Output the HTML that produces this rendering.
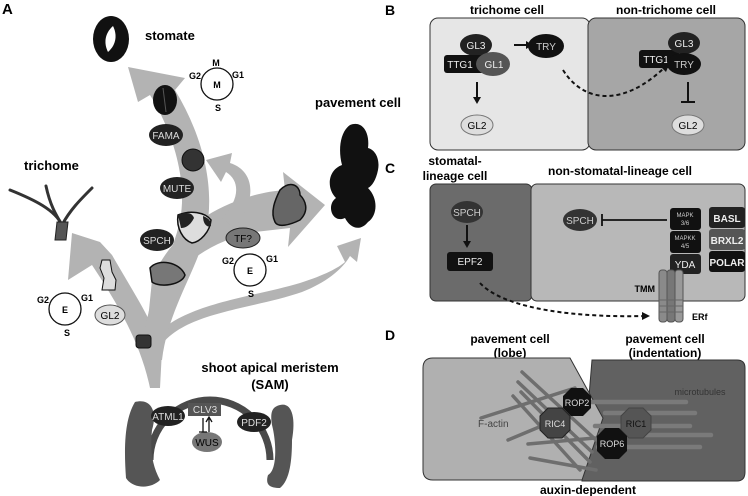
<!DOCTYPE html>
<html><head><meta charset="utf-8"><style>
body{margin:0;background:#fff}
svg{display:block;font-family:"Liberation Sans",sans-serif}
.b{font-weight:bold}
</style></head><body>
<svg width="748" height="496" viewBox="0 0 748 496">
<!-- PANEL A -->
<text x="2" y="14" class="b" font-size="15">A</text>
<g fill="#b3b3b3">
<path d="M150,345 C170,305 250,298 300,283 C325,275 338,268 345,262 L337,246 L361,238 L357,262 L350,256 C342,270 325,283 302,292 C250,310 180,312 158,350 Z"/>
<path d="M145,350 C150,290 190,245 255,232 L290,228 L288,247 L325,205 L283,172 L285,190 C240,193 175,220 152,280 Z"/>
<path d="M150,388 C140,340 115,300 92,265 L68,280 L72,233 L100,242 L112,255 C132,290 152,320 162,350 L160,388 Z"/>
<path d="M145,360 C140,300 172,262 180,220 C188,180 172,130 150,95 L138,102 L128,67 L185,78 L175,90 C205,140 215,190 206,232 C196,272 168,310 162,360 Z"/>
<path d="M222,218 C238,202 242,182 226,172 L221,182 L206,160 L232,153 L230,163 C258,172 255,205 234,228 Z"/>
</g>
<ellipse cx="111" cy="39" rx="18" ry="23" fill="#111"/>
<path d="M113,26 C104,34 104,44 108,52 C117,44 117,34 113,26Z" fill="#fff"/>
<text x="145" y="40" class="b" font-size="13">stomate</text>
<text x="24" y="170" class="b" font-size="13">trichome</text>
<text x="315" y="107" class="b" font-size="13">pavement cell</text>
<text x="270" y="372" class="b" font-size="13" text-anchor="middle">shoot apical meristem</text>
<text x="270" y="389" class="b" font-size="13" text-anchor="middle">(SAM)</text>
<g stroke="#333" stroke-width="3" fill="none" stroke-linecap="round">
<path d="M10,190 C35,200 55,210 62,225"/><path d="M92,188 C80,200 70,210 62,225"/><path d="M46,186 C50,205 56,215 62,225"/>
</g>
<path d="M57,222 L68,222 L66,240 L55,240Z" fill="#555" stroke="#222"/>
<path d="M350,125 C362,120 370,132 368,148 C376,150 380,160 378,170 C376,180 372,186 368,188 C378,198 378,215 368,222 C360,232 350,228 345,218 C332,224 326,205 336,198 C326,188 328,170 342,165 C338,150 340,132 350,125Z" fill="#111"/>
<ellipse cx="165" cy="100" rx="12" ry="15" fill="#111"/>
<line x1="163" y1="88" x2="166" y2="112" stroke="#555"/>
<ellipse cx="166" cy="135" rx="17" ry="11" fill="#222"/><text x="166" y="139" fill="#ddd" font-size="10" text-anchor="middle">FAMA</text>
<circle cx="193" cy="160" r="11" fill="#333" stroke="#111"/>
<ellipse cx="177" cy="188" rx="17" ry="11" fill="#222"/><text x="177" y="192" fill="#ddd" font-size="10" text-anchor="middle">MUTE</text>
<path d="M178,215 C190,210 205,212 211,220 C210,232 200,242 192,243 C183,240 176,228 178,215Z" fill="#ddd" stroke="#111" stroke-width="1.5"/>
<path d="M178,215 C185,212 192,212 194,218 C190,226 185,228 181,228Z" fill="#222"/>
<path d="M203,216 C208,218 211,220 211,226 C207,228 203,224 203,216Z" fill="#222"/>
<ellipse cx="157" cy="240" rx="17" ry="11" fill="#222"/><text x="157" y="244" fill="#ddd" font-size="10" text-anchor="middle">SPCH</text>
<ellipse cx="243" cy="238" rx="17" ry="10" fill="#777" stroke="#222"/><text x="243" y="242" font-size="10" text-anchor="middle">TF?</text>
<path d="M150,268 C158,258 180,262 185,275 C182,285 160,288 152,282 Z" fill="#777" stroke="#111" stroke-width="1.5"/>
<path d="M280,190 C290,180 300,185 300,195 C305,200 310,210 300,220 C290,225 278,228 275,222 C270,212 275,200 280,190Z" fill="#666" stroke="#111" stroke-width="1.5"/>
<path d="M102,260 L110,260 L112,272 L116,280 L115,290 L102,290 L104,278 L100,268Z" fill="#ddd" stroke="#111"/>
<ellipse cx="110" cy="315" rx="15" ry="10" fill="#ddd" stroke="#555"/><text x="110" y="319" font-size="10" text-anchor="middle">GL2</text>
<rect x="136" y="335" width="15" height="13" rx="3" fill="#333" stroke="#111"/>
<g fill="none" stroke="#111" stroke-width="1.3"><circle cx="217" cy="84" r="16"/><circle cx="250" cy="270" r="16"/><circle cx="65" cy="309" r="16"/></g>
<g class="b" font-size="9" text-anchor="middle">
<text x="216" y="66">M</text><text x="195" y="79">G2</text><text x="238" y="78">G1</text><text x="217" y="88">M</text><text x="218" y="111">S</text>
<text x="228" y="264">G2</text><text x="272" y="262">G1</text><text x="250" y="274">E</text><text x="251" y="297">S</text>
<text x="43" y="303">G2</text><text x="87" y="301">G1</text><text x="65" y="313">E</text><text x="67" y="336">S</text>
</g>
<path d="M150,460 A58,58 0 0 1 270,460" fill="none" stroke="#4a4a4a" stroke-width="7"/>
<path d="M135,402 C150,398 158,410 152,430 C150,450 152,465 160,480 C150,490 132,488 126,478 C124,450 124,420 135,402Z" fill="#555"/>
<path d="M280,405 C292,402 296,418 292,440 C292,460 290,480 280,488 C270,488 265,485 268,475 C278,470 276,440 272,425 C270,412 272,407 280,405Z" fill="#555"/>
<ellipse cx="207" cy="442" rx="15" ry="10" fill="#777"/><text x="207" y="446" font-size="10" text-anchor="middle">WUS</text>
<rect x="188" y="403" width="33" height="13" fill="#555"/><text x="205" y="413" fill="#ddd" font-size="10" text-anchor="middle">CLV3</text>
<path d="M203,418 V432 M199,432 H207 M209,432 V418 M206,422 L209,417 L212,422" stroke="#111" stroke-width="1.3" fill="none"/>
<ellipse cx="168" cy="416" rx="17" ry="10" fill="#222"/><text x="168" y="420" fill="#ddd" font-size="10" text-anchor="middle">ATML1</text>
<ellipse cx="254" cy="422" rx="17" ry="10" fill="#222"/><text x="254" y="426" fill="#ddd" font-size="10" text-anchor="middle">PDF2</text>

<!-- PANEL B -->
<text x="385" y="15" class="b" font-size="14">B</text>
<text x="507" y="14" class="b" font-size="12" text-anchor="middle">trichome cell</text>
<text x="666" y="14" class="b" font-size="12" text-anchor="middle">non-trichome cell</text>
<rect x="430" y="18" width="160" height="132" rx="8" fill="#e6e6e6" stroke="#333"/>
<rect x="588" y="18" width="157" height="132" rx="8" fill="#a6a6a6" stroke="#333"/>
<ellipse cx="476" cy="45" rx="16" ry="11" fill="#222"/><text x="476" y="49" fill="#eee" font-size="10" text-anchor="middle">GL3</text>
<rect x="444" y="55" width="42" height="18" rx="3" fill="#111"/><text x="460" y="68" fill="#eee" font-size="10" text-anchor="middle">TTG1</text>
<ellipse cx="493" cy="64" rx="17" ry="12" fill="#555"/><text x="494" y="68" fill="#eee" font-size="10" text-anchor="middle">GL1</text>
<path d="M514,45 H527" stroke="#111" stroke-width="2"/><path d="M526,41 L533,45 L526,49Z" fill="#111"/>
<ellipse cx="546" cy="46" rx="18" ry="12" fill="#111"/><text x="546" y="50" fill="#ccc" font-size="10" text-anchor="middle">TRY</text>
<path d="M477,82 V98" stroke="#111" stroke-width="2"/><path d="M473,97 L477,104 L481,97Z" fill="#111"/>
<ellipse cx="477" cy="125" rx="16" ry="10" fill="#ddd" stroke="#777"/><text x="477" y="129" font-size="10" text-anchor="middle">GL2</text>
<path d="M563,70 C585,105 625,105 664,68" fill="none" stroke="#111" stroke-width="2" stroke-dasharray="4,3"/><path d="M660,66 L670,62 L666,72Z" fill="#111"/>
<rect x="639" y="50" width="40" height="18" rx="3" fill="#111"/><text x="656" y="63" fill="#eee" font-size="10" text-anchor="middle">TTG1</text>
<ellipse cx="684" cy="43" rx="16" ry="11" fill="#222"/><text x="684" y="47" fill="#eee" font-size="10" text-anchor="middle">GL3</text>
<ellipse cx="684" cy="64" rx="17" ry="11" fill="#111"/><text x="684" y="68" fill="#ccc" font-size="10" text-anchor="middle">TRY</text>
<path d="M688,82 V102 M681,102 H695" stroke="#111" stroke-width="2"/>
<ellipse cx="688" cy="125" rx="16" ry="10" fill="#ddd" stroke="#777"/><text x="688" y="129" font-size="10" text-anchor="middle">GL2</text>

<!-- PANEL C -->
<text x="385" y="173" class="b" font-size="14">C</text>
<text x="455" y="165" class="b" font-size="12" text-anchor="middle">stomatal-</text>
<text x="455" y="180" class="b" font-size="12" text-anchor="middle">lineage cell</text>
<text x="620" y="175" class="b" font-size="12" text-anchor="middle">non-stomatal-lineage cell</text>
<rect x="430" y="184" width="102" height="117" rx="6" fill="#6b6b6b" stroke="#333"/>
<rect x="531" y="184" width="214" height="117" rx="6" fill="#b8b8b8" stroke="#333"/>
<ellipse cx="467" cy="212" rx="16" ry="11" fill="#333"/><text x="467" y="216" fill="#ccc" font-size="10" text-anchor="middle">SPCH</text>
<path d="M467,225 V242" stroke="#111" stroke-width="2"/><path d="M463,241 L467,248 L471,241Z" fill="#111"/>
<rect x="447" y="252" width="46" height="19" rx="3" fill="#111"/><text x="470" y="265" fill="#eee" font-size="10" text-anchor="middle">EPF2</text>
<ellipse cx="580" cy="220" rx="17" ry="11" fill="#333"/><text x="580" y="224" fill="#ccc" font-size="10" text-anchor="middle">SPCH</text>
<path d="M602,220 H667 M602,214 V226" stroke="#111" stroke-width="1.8"/>
<rect x="670" y="208" width="31" height="22" rx="3" fill="#111"/><text x="685" y="217" fill="#ccc" font-size="6" text-anchor="middle">MAPK</text><text x="685" y="225" fill="#ccc" font-size="6" text-anchor="middle">3/6</text>
<rect x="670" y="231" width="31" height="22" rx="3" fill="#111"/><text x="685" y="240" fill="#ccc" font-size="6" text-anchor="middle">MAPKK</text><text x="685" y="248" fill="#ccc" font-size="6" text-anchor="middle">4/5</text>
<rect x="670" y="254" width="31" height="20" rx="3" fill="#222"/><text x="685" y="268" fill="#eee" font-size="10" text-anchor="middle">YDA</text>
<rect x="709" y="207" width="36" height="21" rx="3" fill="#222"/><text x="727" y="222" fill="#eee" font-size="10" class="b" text-anchor="middle">BASL</text>
<rect x="709" y="229" width="36" height="21" rx="3" fill="#555"/><text x="727" y="244" fill="#eee" font-size="10" class="b" text-anchor="middle">BRXL2</text>
<rect x="709" y="251" width="36" height="21" rx="3" fill="#111"/><text x="727" y="266" fill="#eee" font-size="10" class="b" text-anchor="middle">POLAR</text>
<rect x="659" y="270" width="8" height="52" rx="3" fill="#8a8a8a" stroke="#555"/>
<rect x="667" y="270" width="8" height="52" rx="3" fill="#777" stroke="#555"/>
<rect x="675" y="270" width="8" height="52" rx="3" fill="#999" stroke="#555"/>
<g stroke="#666"><line x1="659" y1="300" x2="683" y2="300"/><line x1="659" y1="306" x2="683" y2="306"/><line x1="659" y1="312" x2="683" y2="312"/></g>
<text x="655" y="292" font-size="9" class="b" text-anchor="end">TMM</text>
<text x="692" y="320" font-size="9" class="b">ERf</text>
<path d="M480,283 C500,305 560,318 645,316" fill="none" stroke="#111" stroke-width="2" stroke-dasharray="4,3"/><path d="M642,312 L650,316 L642,320Z" fill="#111"/>

<!-- PANEL D -->
<text x="385" y="340" class="b" font-size="14">D</text>
<text x="510" y="343" class="b" font-size="12" text-anchor="middle">pavement cell</text>
<text x="510" y="357" class="b" font-size="12" text-anchor="middle">(lobe)</text>
<text x="665" y="343" class="b" font-size="12" text-anchor="middle">pavement cell</text>
<text x="665" y="357" class="b" font-size="12" text-anchor="middle">(indentation)</text>
<path d="M592,360 H737 Q745,360 745,368 V472 Q745,481 737,481 H582 L592,360Z" fill="#616161" stroke="#333"/>
<path d="M433,358 H570 L603,418 L582,480 H433 Q423,480 423,470 V368 Q423,358 433,358Z" fill="#b0b0b0" stroke="#333"/>
<g stroke="#7a7a7a" stroke-width="4.5" stroke-linecap="round">
<line x1="590" y1="402" x2="686" y2="402"/><line x1="605" y1="413" x2="695" y2="413"/><line x1="595" y1="426" x2="690" y2="426"/><line x1="600" y1="435" x2="711" y2="435"/><line x1="598" y1="447" x2="700" y2="447"/>
</g>
<g stroke="#6e6e6e" stroke-width="3.5" stroke-linecap="round">
<line x1="522" y1="372" x2="596" y2="440"/><line x1="518" y1="382" x2="592" y2="452"/><line x1="521" y1="392" x2="590" y2="462"/><line x1="513" y1="396" x2="580" y2="470"/>
<line x1="481" y1="418" x2="575" y2="388"/><line x1="508" y1="440" x2="575" y2="412"/><line x1="528" y1="444" x2="595" y2="438"/><line x1="530" y1="458" x2="596" y2="470"/>
</g>
<text x="478" y="427" fill="#444" font-size="10">F-actin</text>
<text x="700" y="395" fill="#333" font-size="9" text-anchor="middle">microtubules</text>
<polygon points="571,388 583,388 591,396 591,408 583,416 571,416 563,408 563,396" fill="#111"/><text x="577" y="406" fill="#ddd" font-size="9" text-anchor="middle">ROP2</text>
<polygon points="548,408 562,408 570,416 570,430 562,438 548,438 540,430 540,416" fill="#444" stroke="#222"/><text x="555" y="427" fill="#ddd" font-size="9" text-anchor="middle">RIC4</text>
<polygon points="629,408 643,408 651,416 651,430 643,438 629,438 621,430 621,416" fill="#555" stroke="#444"/><text x="636" y="427" fill="#111" font-size="9" text-anchor="middle">RIC1</text>
<polygon points="605,428 619,428 627,436 627,451 619,459 605,459 597,451 597,436" fill="#111"/><text x="612" y="447" fill="#ddd" font-size="9" text-anchor="middle">ROP6</text>
<text x="588" y="494" class="b" font-size="12" text-anchor="middle">auxin-dependent</text>
</svg>
</body></html>
